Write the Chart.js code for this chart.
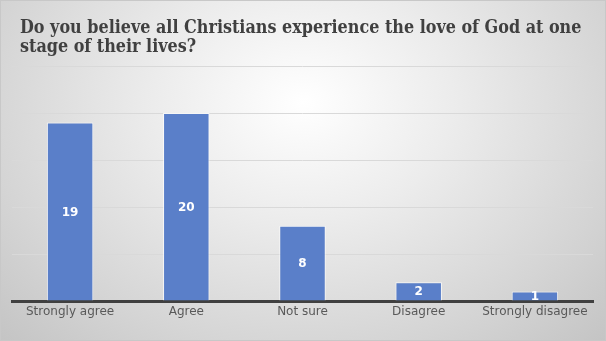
<!DOCTYPE html>
<html>
<head>
<meta charset="utf-8">
<script src="https://cdn.jsdelivr.net/npm/chart.js@4/dist/chart.umd.min.js"></script>
<style>
  html, body { margin: 0; padding: 0; }
  body {
    width: 606px; height: 341px; overflow: hidden;
    background: radial-gradient(ellipse at 50% 30%, #ffffff 0%, #ececec 35%, #d4d4d4 75%, #c4c4c4 100%);
  }
  #wrap { position: relative; width: 606px; height: 341px; box-sizing: border-box; border: 1px solid #c8c8c8; }
</style>
</head>
<body>
<div id="wrap"><canvas id="chart"></canvas></div>
<script>
const titleLines = ['Do you believe all Christians experience the love of God at one', 'stage of their lives?'];
const categories = ['Strongly agree', 'Agree', 'Not sure', 'Disagree', 'Strongly disagree'];
const values     = [19, 20, 8, 2, 1];
const yMax  = 25;
const yStep = 5;

// title drawn by hand so it sits left-aligned like the original
const titlePlugin = {
  id: 'titleText',
  afterDraw(chart) {
    const ctx = chart.ctx;
    ctx.save();
    ctx.font = 'bold 17.8px "DejaVu Serif Condensed", "DejaVu Serif"';
    ctx.fillStyle = '#404040';
    ctx.textBaseline = 'alphabetic';
    titleLines.forEach((line, i) => ctx.fillText(line, 19, 32 + i * 19));
    ctx.restore();
  }
};

// category names under the axis line, placed from the x scale
const categoryLabels = {
  id: 'categoryLabels',
  afterDraw(chart) {
    const ctx = chart.ctx;
    const xs = chart.scales.x;
    ctx.save();
    ctx.font = '12px "DejaVu Sans"';
    ctx.fillStyle = '#595959';
    ctx.textAlign = 'center';
    ctx.textBaseline = 'middle';
    categories.forEach((c, i) => ctx.fillText(c, xs.getPixelForTick(i), chart.chartArea.bottom + 10.5));
    ctx.restore();
  }
};

// white value labels centred in each bar
const valueLabels = {
  id: 'valueLabels',
  afterDatasetsDraw(chart) {
    const ctx = chart.ctx;
    const meta = chart.getDatasetMeta(0);
    ctx.save();
    ctx.font = 'bold 12px "DejaVu Sans"';
    ctx.fillStyle = '#ffffff';
    ctx.textAlign = 'center';
    ctx.textBaseline = 'middle';
    meta.data.forEach((bar, i) => {
      const mid = (bar.y + bar.base) / 2;
      ctx.fillText(String(values[i]), bar.x, mid + 1);
    });
    ctx.restore();
  }
};

new Chart(document.getElementById('chart'), {
  type: 'bar',
  data: {
    labels: categories,
    datasets: [{
      data: values,
      backgroundColor: '#5a7fc9',
      borderColor: 'rgba(255,255,255,0.75)',
      borderWidth: 1,
      barPercentage: 0.4,
      categoryPercentage: 1,
    }],
  },
  options: {
    responsive: true,
    maintainAspectRatio: false,
    animation: false,
    layout: { padding: { left: 11, right: 12, top: 65, bottom: 31 } },
    plugins: { legend: { display: false }, tooltip: { enabled: false } },
    scales: {
      x: {
        grid: { display: false },
        border: { color: '#404040', width: 3 },
        ticks: { display: false },
      },
      y: {
        min: 0, max: yMax,
        ticks: { display: false, stepSize: yStep },
        grid: { color: '#d9d9d9', lineWidth: 1, drawTicks: false },
        border: { display: false },
      },
    },
  },
  plugins: [titlePlugin, valueLabels, categoryLabels],
});
</script>
</body>
</html>
